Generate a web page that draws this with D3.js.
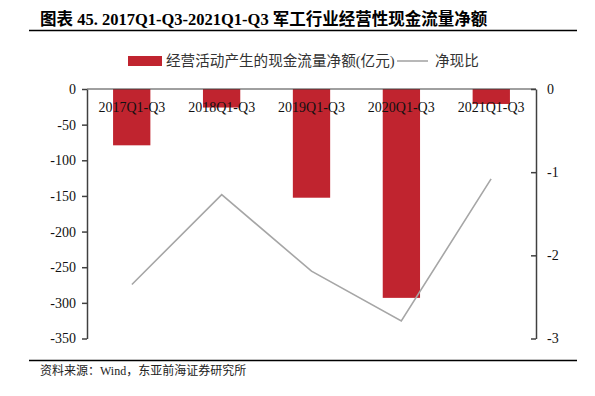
<!DOCTYPE html>
<html>
<head>
<meta charset="utf-8">
<script src="https://cdn.jsdelivr.net/npm/d3@7"></script>
<style>
  body { margin: 0; background: #fff; }
  svg text { font-family: "Liberation Serif", "Times New Roman", "Noto Sans CJK SC", serif; }
</style>
</head>
<body>
<div id="chart"></div>
<script>
// Data
var periods = ["2017Q1-Q3", "2018Q1-Q3", "2019Q1-Q3", "2020Q1-Q3", "2021Q1-Q3"];
var cashFlow = [-79, -26, -152.5, -293, -21];   // 亿元
var cashRatio = [-2.35, -1.27, -2.19, -2.79, -1.08];
var leftTicks = [0, -50, -100, -150, -200, -250, -300, -350];
var rightTicks = [0, -1, -2, -3];

var W = 595, H = 396;
var margin = { top: 89, right: 59, bottom: 57.5, left: 87 };

var svg = d3.select("#chart")
  .append("svg")
  .attr("width", W)
  .attr("height", H);

// Title and rule under it
svg.append("text")
  .attr("x", 40)
  .attr("y", 25)
  .style("font-size", "16.5px")
  .style("font-weight", "bold")
  .attr("fill", "#000")
  .text("图表 45. 2017Q1-Q3-2021Q1-Q3 军工行业经营性现金流量净额");

svg.append("line")
  .attr("x1", 29).attr("x2", 577)
  .attr("y1", 30.5).attr("y2", 30.5)
  .attr("stroke", "#000")
  .attr("stroke-width", 1.5);

// Scales
var x = d3.scaleBand()
  .domain(periods)
  .range([margin.left, W - margin.right])
  .paddingInner(0.585)
  .paddingOuter(0.29);

var xc = d3.scaleBand()
  .domain(periods)
  .range([margin.left, W - margin.right]);

var yL = d3.scaleLinear()
  .domain([-350, 0])
  .range([H - margin.bottom, margin.top]);

var yR = d3.scaleLinear()
  .domain([-3, 0])
  .range([H - margin.bottom, margin.top]);

// Bars
svg.selectAll("rect.bar")
  .data(cashFlow)
  .enter()
  .append("rect")
  .attr("class", "bar")
  .attr("x", function (d, i) { return x(periods[i]); })
  .attr("y", yL(0))
  .attr("width", x.bandwidth())
  .attr("height", function (d) { return yL(d) - yL(0); })
  .attr("fill", "#c0242f");

// Zero line across the top
svg.append("line")
  .attr("x1", margin.left).attr("x2", W - margin.right)
  .attr("y1", yL(0)).attr("y2", yL(0))
  .attr("stroke", "#404040")
  .attr("stroke-width", 1);

// Category labels sit just under the zero line
svg.selectAll("text.cat")
  .data(periods)
  .enter()
  .append("text")
  .attr("class", "cat")
  .attr("x", function (d) { return xc(d) + xc.bandwidth() / 2; })
  .attr("y", 111.5)
  .attr("text-anchor", "middle")
  .style("font-size", "14px")
  .attr("fill", "#111")
  .text(function (d) { return d; });

// Ratio line
var line = d3.line()
  .x(function (d, i) { return xc(periods[i]) + xc.bandwidth() / 2; })
  .y(function (d) { return yR(d); });

svg.append("path")
  .datum(cashRatio)
  .attr("d", line)
  .attr("fill", "none")
  .attr("stroke", "#a6a6a6")
  .attr("stroke-width", 1.6);

// Axes
var leftAxis = svg.append("g")
  .attr("transform", "translate(" + margin.left + ",0)")
  .call(d3.axisLeft(yL).tickValues(leftTicks).tickSize(5).tickSizeOuter(0).tickPadding(6));

var rightAxis = svg.append("g")
  .attr("transform", "translate(" + (W - margin.right) + ",0)")
  .call(d3.axisRight(yR).tickValues(rightTicks).tickSize(-5).tickSizeOuter(0).tickPadding(11)
    .tickFormat(d3.format("d")));

[leftAxis, rightAxis].forEach(function (g) {
  g.select(".domain").attr("stroke", "#404040").attr("stroke-width", 1.5);
  g.selectAll(".tick line").attr("stroke", "#404040").attr("stroke-width", 1.5);
  g.selectAll(".tick text")
    .style("font-size", "14px")
    .style("font-family", "Liberation Serif, Times New Roman, serif")
    .attr("fill", "#111");
});
leftAxis.selectAll(".tick text").text(function (d) { return d === 0 ? "0" : "-" + Math.abs(d); });
rightAxis.selectAll(".tick text").text(function (d) { return d === 0 ? "0" : "-" + Math.abs(d); });

// Legend
var legend = svg.append("g");
legend.append("rect")
  .attr("x", 128).attr("y", 56)
  .attr("width", 34).attr("height", 10)
  .attr("fill", "#c0242f");
legend.append("text")
  .attr("x", 166).attr("y", 66)
  .style("font-size", "14.6px")
  .attr("fill", "#333")
  .text("经营活动产生的现金流量净额(亿元)");
legend.append("line")
  .attr("x1", 397).attr("x2", 428)
  .attr("y1", 61).attr("y2", 61)
  .attr("stroke", "#a6a6a6")
  .attr("stroke-width", 1.6);
legend.append("text")
  .attr("x", 435).attr("y", 66)
  .style("font-size", "14.6px")
  .attr("fill", "#333")
  .text("净现比");

// Footer rule and source
svg.append("line")
  .attr("x1", 29).attr("x2", 577)
  .attr("y1", 360.5).attr("y2", 360.5)
  .attr("stroke", "#000")
  .attr("stroke-width", 1.5);

svg.append("text")
  .attr("x", 40)
  .attr("y", 375)
  .style("font-size", "12px")
  .attr("fill", "#222")
  .text("资料来源：Wind，东亚前海证券研究所");
</script>
</body>
</html>
